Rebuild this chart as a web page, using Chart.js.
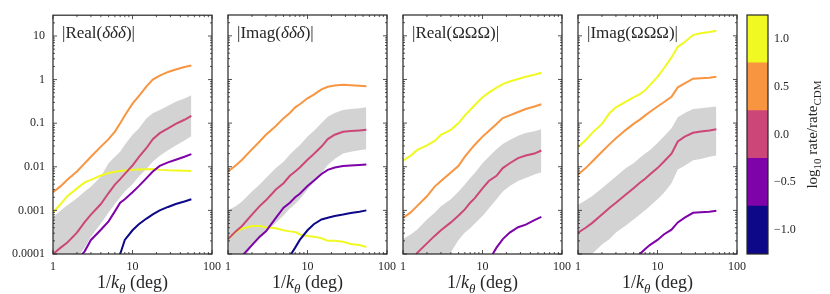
<!DOCTYPE html>
<html>
<head>
<meta charset="utf-8">
<script src="https://cdn.jsdelivr.net/npm/chart.js@4.4.1/dist/chart.umd.min.js"></script>
<style>
  html, body { margin: 0; padding: 0; background: #fff; }
  #wrap { position: relative; width: 830px; height: 294px; }
  #wrap canvas { position: absolute; left: 0; top: 0; }
</style>
</head>
<body>
<div id="wrap">
  <canvas id="p0" width="830" height="294"></canvas>
  <canvas id="p1" width="830" height="294"></canvas>
  <canvas id="p2" width="830" height="294"></canvas>
  <canvas id="p3" width="830" height="294"></canvas>
  <canvas id="cbar" width="830" height="294"></canvas>
</div>
<script>
// 1/k_theta in degrees
const xs = [1, 1.25, 1.5, 2, 2.5, 3, 4, 5, 6, 7, 8, 10, 12, 15, 18, 22, 28, 35, 45, 55];

const xTicks = [1, 10, 100];
const xTickLabels = ["1", "10", "100"];
const yTicks = [1e-4, 1e-3, 1e-2, 1e-1, 1, 10];
const yTickLabels = ["0.0001", "0.001", "0.01", "0.1", "1", "10"];

// |Real(ddd)|
const realDdd_yellow = [9e-4, 1.4e-3, 2.1e-3, 3.2e-3, 4.4e-3, 5e-3, 6.3e-3, 7.2e-3, 7.7e-3, 8e-3, 8.2e-3, 8.5e-3, 8.7e-3, 8.8e-3, 8.9e-3, 8.5e-3, 8.3e-3, 8.2e-3, 8.1e-3, 8e-3];
const realDdd_orange = [2.6e-3, 3.6e-3, 5e-3, 7.8e-3, 0.012, 0.017, 0.029, 0.043, 0.064, 0.1, 0.15, 0.28, 0.42, 0.7, 1.0, 1.23, 1.5, 1.7, 1.95, 2.1];
const realDdd_pink = [1e-4, 1.4e-4, 1.8e-4, 3.1e-4, 5.4e-4, 8e-4, 1.4e-3, 2.5e-3, 3.9e-3, 5.2e-3, 6.9e-3, 0.0107, 0.0166, 0.027, 0.043, 0.059, 0.076, 0.096, 0.12, 0.148];
const realDdd_purple = [null, null, null, 7e-5, 1.15e-4, 2.1e-4, 3.6e-4, 5.6e-4, 9.5e-4, 1.5e-3, 1.8e-3, 2.6e-3, 3.6e-3, 5.5e-3, 7.8e-3, 0.0105, 0.0126, 0.0145, 0.017, 0.0195];
const realDdd_navy = [null, null, null, null, null, null, null, null, 5e-5, 1e-4, 2.1e-4, 3.5e-4, 4.8e-4, 6.5e-4, 8.1e-4, 1e-3, 1.2e-3, 1.4e-3, 1.6e-3, 1.8e-3];
const realDdd_hi = [7e-4, 1e-3, 1.3e-3, 1.9e-3, 2.7e-3, 3.5e-3, 6e-3, 0.012, 0.017, 0.022, 0.032, 0.054, 0.076, 0.13, 0.17, 0.2, 0.25, 0.31, 0.37, 0.44];
const realDdd_lo = [1.5e-5, 2e-5, 3e-5, 8e-5, 1.4e-4, 2.5e-4, 5e-4, 9e-4, 1.4e-3, 2e-3, 2.7e-3, 4e-3, 6e-3, 9e-3, 0.013, 0.018, 0.024, 0.031, 0.04, 0.05];

// |Imag(ddd)|
const imagDdd_yellow = [2.2e-4, 3.2e-4, 3.8e-4, 4.4e-4, 4.4e-4, 4.1e-4, 3.9e-4, 3.5e-4, 3.3e-4, 3.2e-4, 2.8e-4, 2.6e-4, 2.5e-4, 2.3e-4, 2e-4, 2e-4, 1.9e-4, 1.7e-4, 1.6e-4, 1.45e-4];
const imagDdd_orange = [7.8e-3, 0.0107, 0.0145, 0.025, 0.038, 0.054, 0.086, 0.13, 0.17, 0.23, 0.27, 0.37, 0.45, 0.59, 0.68, 0.73, 0.76, 0.74, 0.72, 0.7];
const imagDdd_pink = [2.2e-4, 3.3e-4, 4.4e-4, 8e-4, 1.25e-3, 1.7e-3, 3e-3, 4.2e-3, 6.2e-3, 7.8e-3, 9.6e-3, 0.0145, 0.0195, 0.029, 0.043, 0.054, 0.063, 0.066, 0.068, 0.07];
const imagDdd_purple = [null, 6e-5, 9e-5, 1.6e-4, 2.5e-4, 3.3e-4, 6.7e-4, 1.15e-3, 1.5e-3, 2e-3, 2.4e-3, 3.6e-3, 4.8e-3, 6.8e-3, 8.5e-3, 9.6e-3, 0.0104, 0.0107, 0.011, 0.0113];
const imagDdd_navy = [null, null, null, null, null, null, null, 4e-5, 9e-5, 1.4e-4, 2.1e-4, 3.5e-4, 4.8e-4, 6.2e-4, 6.8e-4, 7.4e-4, 8e-4, 8.7e-4, 9.3e-4, 1e-3];
const imagDdd_hi = [1e-3, 1.25e-3, 1.6e-3, 2.7e-3, 3.9e-3, 5.5e-3, 9.3e-3, 0.013, 0.019, 0.025, 0.031, 0.049, 0.066, 0.1, 0.14, 0.17, 0.2, 0.21, 0.22, 0.23];
const imagDdd_lo = [4e-5, 5e-5, 6.5e-5, 1.5e-4, 2.2e-4, 3.1e-4, 5.2e-4, 7.6e-4, 1.1e-3, 1.4e-3, 1.8e-3, 3e-3, 4.4e-3, 7.2e-3, 0.011, 0.015, 0.02, 0.022, 0.024, 0.025];

// |Real(OOO)|
const realOOO_yellow = [0.0137, 0.018, 0.024, 0.031, 0.039, 0.054, 0.07, 0.1, 0.15, 0.2, 0.26, 0.39, 0.5, 0.65, 0.78, 0.9, 1.02, 1.15, 1.28, 1.42];
const realOOO_orange = [6.7e-4, 9e-4, 1.25e-3, 2.1e-3, 3.5e-3, 4.7e-3, 7.4e-3, 0.0105, 0.017, 0.024, 0.032, 0.049, 0.066, 0.095, 0.13, 0.15, 0.18, 0.21, 0.24, 0.27];
const realOOO_pink = [4e-5, 6e-5, 1.05e-4, 1.75e-4, 2.6e-4, 3.5e-4, 5.3e-4, 7.6e-4, 1.05e-3, 1.5e-3, 1.9e-3, 3.2e-3, 4.7e-3, 6.2e-3, 9.3e-3, 0.012, 0.0158, 0.018, 0.02, 0.0235];
const realOOO_purple = [null, null, null, null, null, null, null, null, null, null, null, null, 7e-5, 1.4e-4, 2.2e-4, 3.1e-4, 4.1e-4, 4.7e-4, 6e-4, 7.1e-4];
const realOOO_hi = [2.2e-4, 2.8e-4, 3.6e-4, 6.2e-4, 8.8e-4, 1.25e-3, 1.8e-3, 2.7e-3, 3.9e-3, 5.5e-3, 7.2e-3, 0.012, 0.017, 0.025, 0.033, 0.041, 0.051, 0.059, 0.065, 0.072];
const realOOO_lo = [1e-5, 1.3e-5, 1.7e-5, 2.5e-5, 3.5e-5, 6e-5, 1.1e-4, 2.1e-4, 3.1e-4, 3.9e-4, 5e-4, 7.4e-4, 1.1e-3, 1.8e-3, 2.7e-3, 3.6e-3, 4.7e-3, 5.5e-3, 6.6e-3, 7.5e-3];

// |Imag(OOO)|
const imagOOO_yellow = [0.028, 0.041, 0.059, 0.096, 0.17, 0.23, 0.31, 0.39, 0.46, 0.57, 0.74, 1.15, 1.78, 3.2, 5.6, 7.2, 10.4, 11.4, 12.3, 13.1];
const imagOOO_orange = [6.6e-3, 9.3e-3, 0.013, 0.022, 0.033, 0.045, 0.07, 0.096, 0.12, 0.15, 0.18, 0.24, 0.3, 0.4, 0.66, 0.81, 1.04, 1.07, 1.1, 1.15];
const imagOOO_pink = [3.1e-4, 4e-4, 5.1e-4, 8e-4, 1.15e-3, 1.5e-3, 2.3e-3, 3.2e-3, 4.3e-3, 5.3e-3, 6.6e-3, 9.3e-3, 0.013, 0.02, 0.038, 0.049, 0.06, 0.064, 0.068, 0.072];
const imagOOO_purple = [null, null, null, null, null, null, null, 6e-5, 1e-4, 1.3e-4, 1.6e-4, 2.1e-4, 2.8e-4, 3.6e-4, 5.3e-4, 6.8e-4, 8.8e-4, 9e-4, 9.3e-4, 9.8e-4];
const imagOOO_hi = [1.35e-3, 1.7e-3, 2.1e-3, 3.2e-3, 4.5e-3, 6e-3, 9.3e-3, 0.012, 0.016, 0.02, 0.024, 0.035, 0.049, 0.076, 0.136, 0.17, 0.21, 0.22, 0.23, 0.24];
const imagOOO_lo = [6e-5, 8e-5, 1e-4, 1.66e-4, 2.2e-4, 3.1e-4, 4.5e-4, 6.2e-4, 8e-4, 1e-3, 1.25e-3, 1.8e-3, 2.5e-3, 4.2e-3, 8.6e-3, 0.0105, 0.014, 0.015, 0.017, 0.018];

// colorbar
const cbEdges = [-1.25, -0.75, -0.25, 0.25, 0.75, 1.25];
const cbTicks = [-1, -0.5, 0, 0.5, 1];
const cbTickLabels = ["\u22121.0", "\u22120.5", "0.0", "0.5", "1.0"];

const NAVY = "#0d0887", PURPLE = "#7e03a8", PINK = "#cc4778", ORANGE = "#f89540", YELLOW = "#f0f921";
const cbColors = [NAVY, PURPLE, PINK, ORANGE, YELLOW];
const BAND = "#d3d3d3";
const INK = "#262626";
const FONT = "'Liberation Serif', 'DejaVu Serif', serif";

const panelLeft = [53, 228, 403, 578];
const panelW = 159;
const plotTop = 15, plotBottom = 254;

const panels = [
  { title: [["|Real(", "r"], ["\u03b4\u03b4\u03b4", "i"], [")|", "r"]],
    hi: realDdd_hi, lo: realDdd_lo,
    lines: [[realDdd_navy, NAVY], [realDdd_purple, PURPLE], [realDdd_pink, PINK], [realDdd_orange, ORANGE], [realDdd_yellow, YELLOW]] },
  { title: [["|Imag(", "r"], ["\u03b4\u03b4\u03b4", "i"], [")|", "r"]],
    hi: imagDdd_hi, lo: imagDdd_lo,
    lines: [[imagDdd_navy, NAVY], [imagDdd_purple, PURPLE], [imagDdd_pink, PINK], [imagDdd_orange, ORANGE], [imagDdd_yellow, YELLOW]] },
  { title: [["|Real(\u03a9\u03a9\u03a9)|", "r"]],
    hi: realOOO_hi, lo: realOOO_lo,
    lines: [[realOOO_purple, PURPLE], [realOOO_pink, PINK], [realOOO_orange, ORANGE], [realOOO_yellow, YELLOW]] },
  { title: [["|Imag(\u03a9\u03a9\u03a9)|", "r"]],
    hi: imagOOO_hi, lo: imagOOO_lo,
    lines: [[imagOOO_purple, PURPLE], [imagOOO_pink, PINK], [imagOOO_orange, ORANGE], [imagOOO_yellow, YELLOW]] }
];

const xTitle = [["1/", "r"], ["k", "i"], ["\u03b8", "si"], [" (deg)", "r"]];
const cbTitle = [["log", "r"], ["10", "sr"], [" rate/rate", "r"], ["CDM", "sr"]];

// mixed roman / italic / subscript text on a canvas
function drawRich(ctx, parts, x, y, size, align) {
  const fontFor = k => {
    const sub = k[0] === "s";
    const it = k.indexOf("i") >= 0;
    return (it ? "italic " : "") + Math.round(sub ? size * 0.7 : size) + "px " + FONT;
  };
  let total = 0;
  parts.forEach(p => { ctx.font = fontFor(p[1]); total += ctx.measureText(p[0]).width; });
  let cx = align === "center" ? x - total / 2 : x;
  ctx.textAlign = "left";
  ctx.textBaseline = "alphabetic";
  parts.forEach(p => {
    ctx.font = fontFor(p[1]);
    const dy = p[1][0] === "s" ? size * 0.25 : 0;
    ctx.fillText(p[0], cx, y + dy);
    cx += ctx.measureText(p[0]).width;
  });
}

const framePlugin = {
  id: "frame",
  afterDraw(chart, args, opts) {
    const { ctx, chartArea: a, scales } = chart;
    const xS = scales.x, yS = scales.y;
    ctx.save();
    ctx.strokeStyle = INK;
    ctx.lineWidth = 0.8;
    ctx.beginPath();
    for (let e = 0; e <= 2; e++) {
      for (let k = 1; k <= 9; k++) {
        const v = k * Math.pow(10, e);
        if (v > 100) break;
        const p = xS.getPixelForValue(v);
        const L = k === 1 ? 4 : 2;
        ctx.moveTo(p, a.bottom); ctx.lineTo(p, a.bottom - L);
        ctx.moveTo(p, a.top); ctx.lineTo(p, a.top + L);
      }
    }
    for (let e = -4; e <= 1; e++) {
      for (let k = 1; k <= 9; k++) {
        const v = k * Math.pow(10, e);
        if (v >= yS.max) break;
        const p = yS.getPixelForValue(v);
        const L = k === 1 ? 4 : 2;
        ctx.moveTo(a.left, p); ctx.lineTo(a.left + L, p);
        ctx.moveTo(a.right, p); ctx.lineTo(a.right - L, p);
      }
    }
    ctx.stroke();
    ctx.lineWidth = 1.2;
    ctx.strokeRect(a.left, a.top, a.width, a.height);
    ctx.fillStyle = INK;
    drawRich(ctx, opts.title, a.left + 9, 38, 17, "left");
    drawRich(ctx, xTitle, (a.left + a.right) / 2, 288, 18, "center");
    ctx.restore();
  }
};

function pts(arr) {
  return xs.map((x, i) => ({ x: x, y: arr[i] }));
}

function makePanel(i) {
  const p = panels[i];
  const datasets = [
    { data: pts(p.hi), fill: "+1", backgroundColor: BAND, borderColor: "rgba(0,0,0,0)", borderWidth: 0, order: 10 },
    { data: pts(p.lo), fill: false, borderColor: "rgba(0,0,0,0)", borderWidth: 0, order: 11 }
  ];
  p.lines.forEach(([arr, col]) => {
    datasets.push({ data: pts(arr), borderColor: col, borderWidth: 2, fill: false, order: 1, clip: 0 });
  });
  return new Chart(document.getElementById("p" + i), {
    type: "line",
    data: { datasets },
    plugins: [framePlugin],
    options: {
      responsive: false,
      animation: false,
      events: [],
      layout: { padding: { left: i === 0 ? 0 : panelLeft[i], right: 830 - panelLeft[i] - panelW, top: plotTop, bottom: 0 } },
      elements: { point: { radius: 0 }, line: { tension: 0 } },
      plugins: { legend: { display: false }, tooltip: { enabled: false }, frame: { title: p.title } },
      scales: {
        x: {
          type: "logarithmic", min: 1, max: 100,
          grid: { display: false, drawTicks: false }, border: { display: false },
          afterBuildTicks: s => { s.ticks = xTicks.map(v => ({ value: v })); },
          afterFit: s => { s.height = 294 - plotBottom; },
          ticks: { font: { family: FONT, size: 12 }, color: INK, padding: 6, maxRotation: 0, autoSkip: false,
                   callback: (v, idx) => xTickLabels[idx] }
        },
        y: {
          type: "logarithmic", min: 1e-4, max: 30, display: i === 0,
          grid: { display: false, drawTicks: false }, border: { display: false },
          afterBuildTicks: s => { s.ticks = yTicks.map(v => ({ value: v })); },
          afterFit: s => { s.width = i === 0 ? panelLeft[0] : 0; },
          ticks: { font: { family: FONT, size: 12 }, color: INK, padding: 8, autoSkip: false,
                   callback: (v, idx) => yTickLabels[idx] }
        }
      }
    }
  });
}

panels.forEach((p, i) => makePanel(i));

const cbPlugin = {
  id: "cbframe",
  afterDraw(chart) {
    const { ctx, chartArea: a } = chart;
    ctx.save();
    ctx.strokeStyle = INK;
    ctx.lineWidth = 1.2;
    ctx.strokeRect(a.left, a.top, a.width, a.height);
    ctx.fillStyle = INK;
    ctx.translate(817, (a.top + a.bottom) / 2);
    ctx.rotate(-Math.PI / 2);
    drawRich(ctx, cbTitle, 0, 0, 15, "center");
    ctx.restore();
  }
};

new Chart(document.getElementById("cbar"), {
  type: "bar",
  data: {
    labels: [""],
    datasets: cbColors.map((c, i) => ({
      data: [[cbEdges[i], cbEdges[i + 1]]],
      backgroundColor: c, borderWidth: 0, grouped: false,
      barPercentage: 1, categoryPercentage: 1
    }))
  },
  plugins: [cbPlugin],
  options: {
    responsive: false,
    animation: false,
    events: [],
    layout: { padding: { left: 747, right: 0, top: plotTop, bottom: 294 - plotBottom } },
    plugins: { legend: { display: false }, tooltip: { enabled: false } },
    scales: {
      x: { display: false },
      y: {
        position: "right", min: -1.25, max: 1.25,
        grid: { display: false, drawTicks: false }, border: { display: false },
        afterBuildTicks: s => { s.ticks = cbTicks.map(v => ({ value: v })); },
        afterFit: s => { s.width = 830 - 768; },
        ticks: { font: { family: FONT, size: 12 }, color: INK, padding: 6, autoSkip: false,
                 callback: (v, idx) => cbTickLabels[idx] }
      }
    }
  }
});
</script>
</body>
</html>
